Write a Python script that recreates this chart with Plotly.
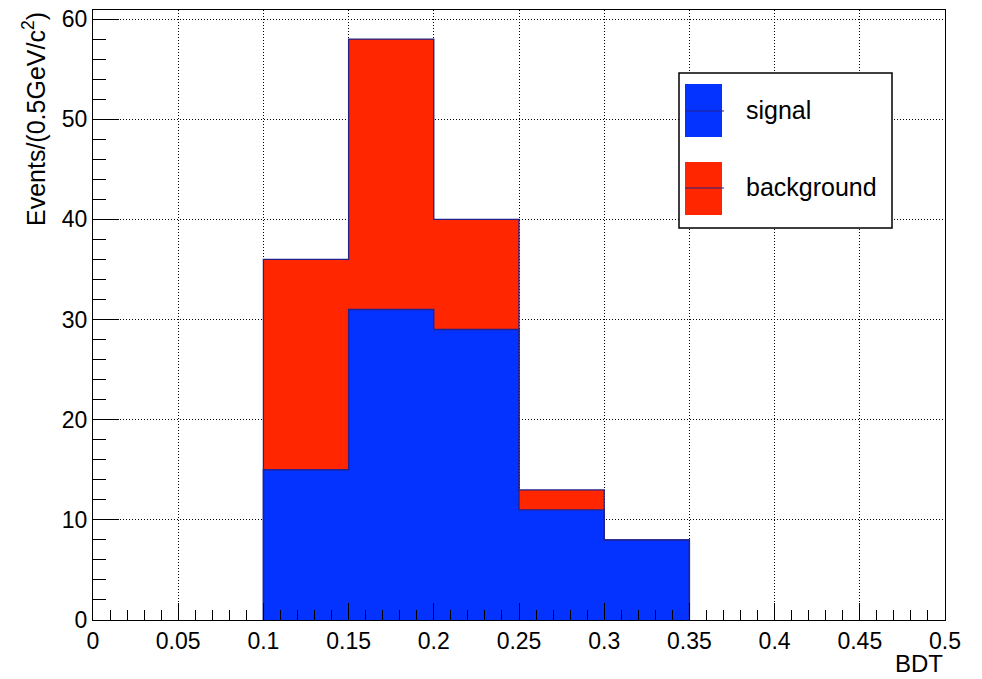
import plotly.graph_objects as go

# ---- data ----
bin_edges = [0.10, 0.15, 0.20, 0.25, 0.30, 0.35]
signal = [15, 31, 29, 11, 8]
background = [21, 27, 11, 2, 0]
x_ticks = [0, 0.05, 0.1, 0.15, 0.2, 0.25, 0.3, 0.35, 0.4, 0.45, 0.5]
y_ticks = [0, 10, 20, 30, 40, 50, 60]

BLUE = "#0433ff"
RED = "#ff2600"
EDGE = "#22228a"
FONT = "Liberation Sans, Arial, Helvetica, sans-serif"

centers = [(a + b) / 2 for a, b in zip(bin_edges[:-1], bin_edges[1:])]
widths = [b - a for a, b in zip(bin_edges[:-1], bin_edges[1:])]
total = [s + b for s, b in zip(signal, background)]

fig = go.Figure()
fig.add_trace(go.Bar(x=centers, y=signal, width=widths,
                     marker=dict(color=BLUE, line=dict(width=0)),
                     name="signal", showlegend=False, hoverinfo="skip"))
fig.add_trace(go.Bar(x=centers, y=background, width=widths,
                     marker=dict(color=RED, line=dict(width=0)),
                     name="background", showlegend=False, hoverinfo="skip"))


def step_outline(vals):
    xs = [bin_edges[0]] + bin_edges[:-1] + [bin_edges[-1]]
    ys = [0] + list(vals) + [0]
    return xs, ys


for vals in (signal, total):
    xs, ys = step_outline(vals)
    fig.add_trace(go.Scatter(x=xs, y=ys, mode="lines",
                             line=dict(color=EDGE, width=1.3, shape="hv"),
                             showlegend=False, hoverinfo="skip"))

W, H = 982, 679
L, R, T, B = 93, 37, 10, 59
pw, ph = W - L - R, H - T - B


def px(xp):
    return (xp - L) / pw


def py(yp):
    return (H - B - yp) / ph


fig.update_layout(
    width=W, height=H,
    margin=dict(l=L, r=R, t=T, b=B, autoexpand=False),
    barmode="stack", bargap=0,
    plot_bgcolor="white", paper_bgcolor="white",
    font=dict(family=FONT, size=23, color="black"),
    showlegend=False,
)

GRID_DASH = "1px,2px"
fig.update_xaxes(
    range=[0, 0.5], tickvals=x_ticks, ticktext=[f"{v:g}" for v in x_ticks],
    showline=True, mirror=True, linecolor="black", linewidth=1,
    ticks="inside", ticklen=17, tickcolor="black", tickwidth=1,
    showgrid=True, gridcolor="black", griddash=GRID_DASH, gridwidth=1,
    minor=dict(dtick=0.01, ticks="inside", ticklen=10, tickcolor="black", showgrid=False),
    tickfont=dict(size=23), zeroline=False, ticklabeloverflow="allow",
    automargin=False,
)
fig.update_yaxes(
    range=[0, 60.9], tickvals=y_ticks,
    showline=True, mirror=True, linecolor="black", linewidth=1,
    ticks="inside", ticklen=26, tickcolor="black", tickwidth=1,
    showgrid=True, gridcolor="black", griddash=GRID_DASH, gridwidth=1,
    minor=dict(dtick=2, ticks="inside", ticklen=13, tickcolor="black", showgrid=False),
    tickfont=dict(size=23), zeroline=False, ticklabeloverflow="allow",
    automargin=False,
)

# axis titles
fig.add_annotation(text="Events/(0.5GeV/c<sup>2</sup>)", textangle=-90,
                   xref="paper", yref="paper", x=px(34), y=1.0,
                   xanchor="center", yanchor="top", showarrow=False,
                   font=dict(size=25))
fig.add_annotation(text="BDT", xref="paper", yref="paper", x=1.0, y=py(663),
                   xanchor="right", yanchor="middle", showarrow=False,
                   font=dict(size=24))

# custom legend (ROOT style)
shapes = [
    dict(type="rect", xref="paper", yref="paper", x0=px(679), x1=px(892),
         y0=py(228), y1=py(73), line=dict(color="black", width=1.5),
         fillcolor="white", layer="above"),
    dict(type="rect", xref="paper", yref="paper", x0=px(685), x1=px(722),
         y0=py(137), y1=py(84), line=dict(width=0), fillcolor=BLUE, layer="above"),
    dict(type="line", xref="paper", yref="paper", x0=px(685), x1=px(724),
         y0=py(111), y1=py(111), line=dict(color=EDGE, width=1.2), layer="above"),
    dict(type="rect", xref="paper", yref="paper", x0=px(685), x1=px(722),
         y0=py(215), y1=py(162), line=dict(width=0), fillcolor=RED, layer="above"),
    dict(type="line", xref="paper", yref="paper", x0=px(685), x1=px(724),
         y0=py(188), y1=py(188), line=dict(color=EDGE, width=1.2), layer="above"),
]
fig.update_layout(shapes=shapes)
fig.add_annotation(text="signal", xref="paper", yref="paper", x=px(744), y=py(110),
                   xanchor="left", yanchor="middle", showarrow=False, font=dict(size=25))
fig.add_annotation(text="background", xref="paper", yref="paper", x=px(744), y=py(187),
                   xanchor="left", yanchor="middle", showarrow=False, font=dict(size=25))

# remove the default 8px page margin so the figure fills the window exactly
fig.write_html("out.html", config={"displayModeBar": False},
               post_script="document.body.style.margin='0';")
